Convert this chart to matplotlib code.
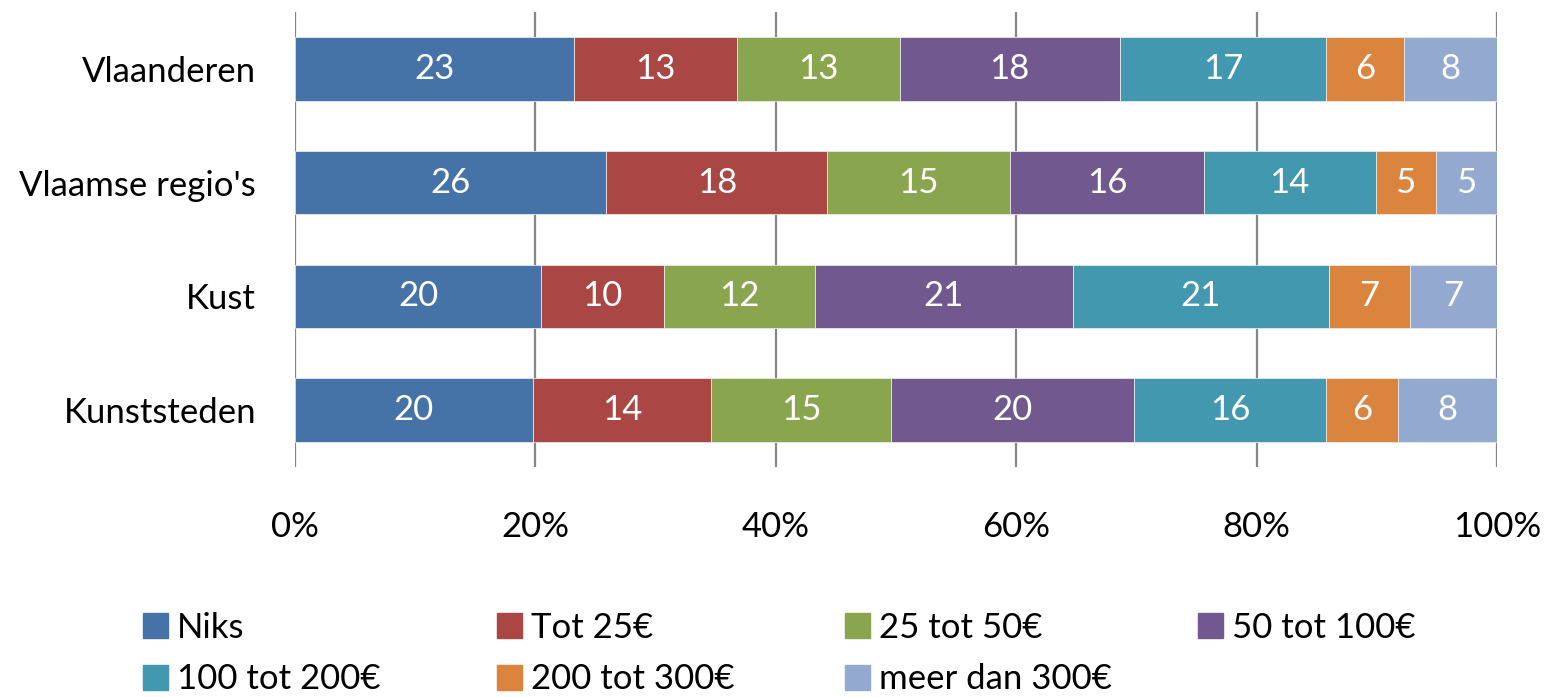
import matplotlib.pyplot as plt
import matplotlib.patches as mpatches
import numpy as np

categories = ["Vlaanderen", "Vlaamse regio's", "Kust", "Kunststeden"]
series = ['Niks', 'Tot 25€', '25 tot 50€', '50 tot 100€',
          '100 tot 200€', '200 tot 300€', 'meer dan 300€']

niks = [23.2, 25.9, 20.5, 19.8]
tot_25 = [13.6, 18.4, 10.2, 14.8]
van_25_50 = [13.5, 15.2, 12.6, 15.0]
van_50_100 = [18.3, 16.1, 21.4, 20.2]
van_100_200 = [17.2, 14.3, 21.3, 16.0]
van_200_300 = [6.5, 5.0, 6.8, 6.0]
meer_300 = [7.7, 5.1, 7.2, 8.2]

# getoonde labels
niks_lbl = [23, 26, 20, 20]
tot_25_lbl = [13, 18, 10, 14]
van_25_50_lbl = [13, 15, 12, 15]
van_50_100_lbl = [18, 16, 21, 20]
van_100_200_lbl = [17, 14, 21, 16]
van_200_300_lbl = [6, 5, 7, 6]
meer_300_lbl = [8, 5, 7, 8]

values = [niks, tot_25, van_25_50, van_50_100, van_100_200, van_200_300, meer_300]
labels = [niks_lbl, tot_25_lbl, van_25_50_lbl, van_50_100_lbl,
          van_100_200_lbl, van_200_300_lbl, meer_300_lbl]
colors = ['#4572A7', '#AA4643', '#89A54E', '#71588F', '#4198AF', '#DB843D', '#93A9CF']

plt.rcParams['font.family'] = ['Lato', 'DejaVu Sans']
fs = 25

fig = plt.figure(figsize=(15.49, 6.97), dpi=100)
ax = fig.add_axes([0.1904, 0.33, 0.776, 0.6528])

y = np.arange(len(categories))
left = np.zeros(len(categories))
handles = []
for vals, lbls, col, name in zip(values, labels, colors, series):
    vals = np.array(vals)
    bars = ax.barh(y, vals, left=left, height=0.56, color=col,
                   edgecolor='#e8e8e8', linewidth=0.6, zorder=3)
    for b, l in zip(bars, lbls):
        ax.text(b.get_x() + b.get_width() / 2, b.get_y() + b.get_height() / 2, str(l),
                ha='center', va='center', color='white', fontsize=fs, zorder=4)
    left += vals
    handles.append(mpatches.Patch(color=col, label=name))

ax.set_xlim(0, 100)
ax.set_ylim(len(categories) - 0.5, -0.5)
ax.set_xticks(np.arange(0, 101, 20))
ax.set_xticklabels([f'{t}%' for t in range(0, 101, 20)])
ax.set_yticks(y)
ax.set_yticklabels(categories)
ax.tick_params(axis='both', length=0, labelsize=fs)
ax.tick_params(axis='x', pad=32)
ax.tick_params(axis='y', pad=28)
ax.xaxis.grid(True, color='#868686', linewidth=1.6, zorder=0)
for s in ax.spines.values():
    s.set_visible(False)

# legenda: vaste kolommen zoals in Excel
col_x = [143, 497, 845, 1198]
for j, x in enumerate(col_x):
    hs = [handles[k] for k in (j, j + 4) if k < len(handles)]
    leg = fig.legend(handles=hs, loc='upper left',
                     bbox_to_anchor=(x / 1549, 1 - 612 / 697),
                     bbox_transform=fig.transFigure, frameon=False,
                     fontsize=fs, handlelength=0.72, handleheight=0.72,
                     handletextpad=0.25, labelspacing=0.56, borderpad=0,
                     borderaxespad=0)

fig.savefig('out.png', dpi=100)
